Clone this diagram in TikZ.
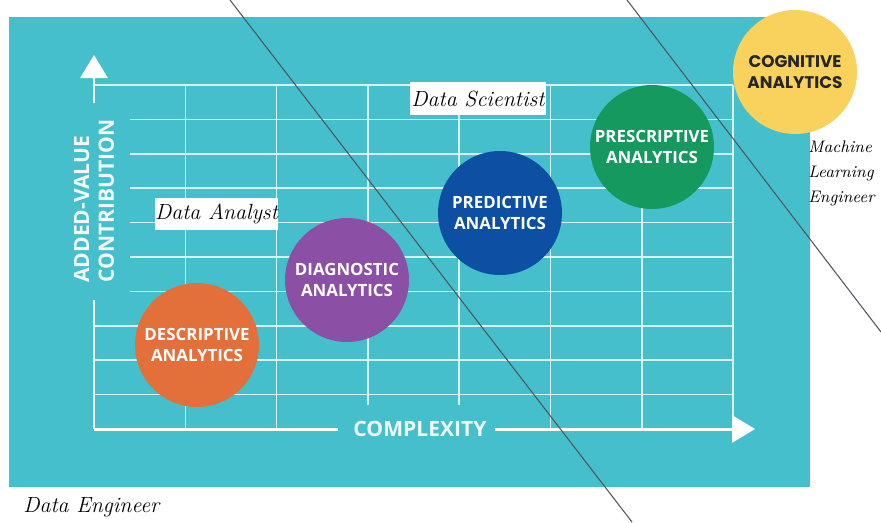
\documentclass[tikz,border=0pt]{standalone}
\usepackage{fontspec}
\setmainfont{Open Sans}
\newfontfamily\handfont{Latin Modern Roman}
\newfontfamily\headfont{Poppins}
\usetikzlibrary{arrows.meta}

\definecolor{panel}{HTML}{45BFCB}
\definecolor{gridc}{HTML}{D8F1F4}
\definecolor{descc}{HTML}{E3703A}
\definecolor{diagc}{HTML}{8B4FA6}
\definecolor{predc}{HTML}{0D4FA3}
\definecolor{presc}{HTML}{15995F}
\definecolor{cogc}{HTML}{F8D25C}
\definecolor{penc}{HTML}{50555C}

\tikzset{
  gridline/.style={draw=gridc, line width=0.85pt},
  axisline/.style={draw=white, line width=1.7pt},
  axishead/.style={-{Triangle[length=0.46cm,width=0.54cm]}},
  axislabel/.style={text=white!92!panel, font=\bfseries\fontsize{12}{14}\selectfont, inner sep=0pt},
  stage/.style={circle, minimum size=2.48cm, inner sep=0pt, align=center,
                text=white, font=\bfseries\fontsize{9.6}{12}\selectfont},
  role/.style={fill=white, inner sep=0pt, font=\handfont\itshape\fontsize{12.5}{14}\selectfont},
  penline/.style={draw=penc, line width=0.6pt},
}

\begin{document}
\begin{tikzpicture}[x=0.02cm, y=-0.02cm]
\useasboundingbox (0,0) rectangle (881,522);

% panel
\fill[panel] (9,17) rectangle (810,487);

% grid: vertical lines
\foreach \i in {1,2,5,6,7} {
  \draw[gridline] ({94+91.3*\i},85) -- ({94+91.3*\i},429);
}
\foreach \i in {3,4} {
  \draw[gridline] ({94+91.3*\i},85) -- ({94+91.3*\i},405);
}
% grid: horizontal lines
\draw[gridline] (94,85) -- (733,85);
\foreach \j in {1,...,6} {
  \draw[gridline] (130,{85+34.4*\j}) -- (733,{85+34.4*\j});
}
\foreach \j in {7,8,9} {
  \draw[gridline] (94,{85+34.4*\j}) -- (733,{85+34.4*\j});
}

% axes
\coordinate (origin) at (94,429);
\coordinate (ygapB) at (94,300);
\coordinate (ygapT) at (94,103);
\coordinate (ytip) at (94,55);
\coordinate (xgapL) at (338,429);
\coordinate (xgapR) at (495,429);
\coordinate (xtip) at (755,429);
\draw[axisline] (origin) -- (ygapB);
\draw[axisline, axishead, fill=white] (ygapT) -- (ytip);
\draw[axisline] (origin) -- (xgapL);
\draw[axisline, axishead, fill=white] (xgapR) -- (xtip);

\node[axislabel, rotate=90, align=left] (ylab) at (94,201) {ADDED-VALUE\\CONTRIBUTION};
\node[axislabel] (xlab) at (420,429) {COMPLEXITY};

% analytics stages
\node[stage, fill=descc] (desc) at (197,345) {DESCRIPTIVE\\ANALYTICS};
\node[stage, fill=diagc] (diag) at (347,280) {DIAGNOSTIC\\ANALYTICS};
\node[stage, fill=predc] (pred) at (500,213) {PREDICTIVE\\ANALYTICS};
\node[stage, fill=presc] (pres) at (652,147) {PRESCRIPTIVE\\ANALYTICS};
\node[stage, fill=cogc, text=black!85, font=\headfont\bfseries\fontsize{9.6}{12}\selectfont] (cog) at (795,72) {COGNITIVE\\ANALYTICS};

% roles
\node[role, minimum width=2.72cm, minimum height=0.66cm] (sci) at (478,98.5) {Data Scientist};
\node[role, minimum width=2.46cm, minimum height=0.64cm] (ana) at (216.5,214) {Data Analyst};
\node[role, fill=none, anchor=west] (eng) at (23,507) {Data Engineer};
\node[role, fill=none, anchor=north west, align=left, font=\handfont\itshape\fontsize{9.5}{14.2}\selectfont] (mle) at (808,141) {Machine\\Learning\\Engineer};

% separating strokes
\coordinate (s1a) at (230,0);
\coordinate (s1b) at (632,522);
\coordinate (s2a) at (627,0);
\coordinate (s2b) at (881,332);
\draw[penline] (s1a) -- (s1b);
\draw[penline] (s2a) -- (s2b);
\end{tikzpicture}
\end{document}
